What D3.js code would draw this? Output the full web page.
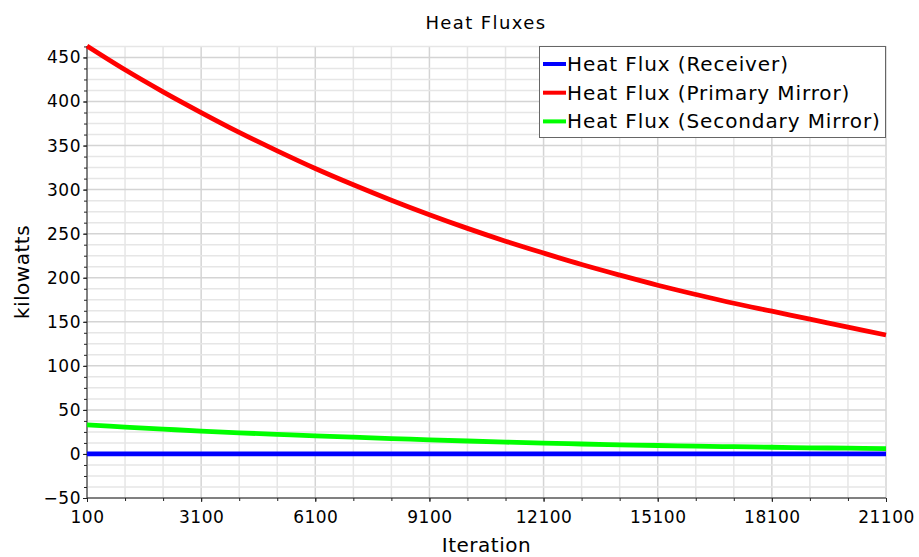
<!DOCTYPE html>
<html>
<head>
<meta charset="utf-8">
<script src="https://cdn.jsdelivr.net/npm/d3@7"></script>
<style>
  body { margin: 0; background: #fff; }
  svg text { font-family: "DejaVu Sans", sans-serif; fill: #000; }
</style>
</head>
<body>
<script>
// values
const iterations = [100, 1100, 2100, 3100, 4100, 5100, 6100, 7100, 8100, 9100, 10100,
    11100, 12100, 13100, 14100, 15100, 16100, 17100, 18100, 19100, 20100, 21100];
const receiver = [0, 0, 0, 0, 0, 0, 0, 0, 0, 0, 0,
    0, 0, 0, 0, 0, 0, 0, 0, 0, 0, 0];
const primaryMirror = [463, 436, 411, 387.5, 365, 344, 324, 305.5, 288, 271.5, 256,
    241.5, 228, 215, 203, 191.5, 181, 171, 162, 153, 144, 135];
const secondaryMirror = [33, 30.5, 28.2, 26, 24, 22.2, 20.5, 19, 17.5, 16, 14.7,
    13.4, 12.3, 11.3, 10.4, 9.6, 8.9, 8.2, 7.6, 7, 6.5, 6];
const seriesNames = ['Heat Flux (Receiver)', 'Heat Flux (Primary Mirror)', 'Heat Flux (Secondary Mirror)'];
const seriesColors = ['#0000ff', '#ff0000', '#00ff00'];
const xTicks = [100, 3100, 6100, 9100, 12100, 15100, 18100, 21100];
const yTicks = [-50, 0, 50, 100, 150, 200, 250, 300, 350, 400, 450];

const width = 919;
const height = 557;
const margin = {top: 46, right: 33, bottom: 59, left: 87};

const svg = d3.select('body').append('svg')
    .attr('width', width)
    .attr('height', height);

const x = d3.scaleLinear()
    .domain([100, 21100])
    .range([margin.left, width - margin.right]);

const y = d3.scaleLinear()
    .domain([-50, 463])
    .range([height - margin.bottom, margin.top]);

const g = svg.append('g');

// grid: minor every 1000 iterations / 12.5 kW
const xMinor = d3.range(100, 21101, 1000);
const yMinor = d3.range(-50, 463, 12.5);

g.selectAll('line.vgrid')
    .data(xMinor)
    .enter()
    .append('line')
    .attr('class', 'vgrid')
    .attr('x1', d => x(d)).attr('x2', d => x(d))
    .attr('y1', y(-50)).attr('y2', margin.top)
    .style('stroke', d => (d - 100) % 3000 === 0 ? '#d4d4d4' : '#e6e6e6')
    .style('stroke-width', 1.5);

g.selectAll('line.hgrid')
    .data(yMinor)
    .enter()
    .append('line')
    .attr('class', 'hgrid')
    .attr('x1', x(100)).attr('x2', x(21100))
    .attr('y1', d => y(d)).attr('y2', d => y(d))
    .style('stroke', d => d % 50 === 0 ? '#d4d4d4' : '#e6e6e6')
    .style('stroke-width', 1.5);

// axes
const xAxis = d3.axisBottom(x).tickValues(xTicks).tickSize(4).tickFormat(d3.format('d'));
const yAxis = d3.axisLeft(y).tickValues(yTicks).tickSize(4).tickFormat(d => d < 0 ? '\u2212' + Math.abs(d) : d);

const xMinorAxis = d3.axisBottom(x).tickValues(xMinor).tickSize(3).tickFormat('');
const yMinorAxis = d3.axisLeft(y).tickValues(yMinor).tickSize(3).tickFormat('');

svg.append('g')
    .attr('transform', `translate(0,${y(-50)})`)
    .call(xMinorAxis)
    .call(a => a.select('.domain').remove());

svg.append('g')
    .attr('transform', `translate(${x(100)},0)`)
    .call(yMinorAxis)
    .call(a => a.select('.domain').remove());

svg.append('g')
    .attr('transform', `translate(0,${y(-50)})`)
    .call(xAxis)
    .call(a => a.select('.domain').attr('d', `M${x(100)},0H${x(21100)}`))
    .selectAll('text')
    .attr('dy', '1.05em')
    .style('font-size', '17px')
    .style('letter-spacing', '0.5px');

svg.append('g')
    .attr('transform', `translate(${x(100)},0)`)
    .call(yAxis)
    .call(a => a.select('.domain').attr('d', `M0,${y(-50)}V${margin.top}`))
    .selectAll('text')
    .attr('x', -6)
    .style('font-size', '17px')
    .style('letter-spacing', '0.5px');

svg.selectAll('.domain, .tick line').style('stroke', '#222');

// lines
const series = [receiver, primaryMirror, secondaryMirror];

const line = d3.line()
    .x((d, i) => x(iterations[i]))
    .y(d => y(d))
    .curve(d3.curveCatmullRom);

svg.append('g')
    .selectAll('path')
    .data(series)
    .enter()
    .append('path')
    .attr('d', line)
    .style('fill', 'none')
    .style('stroke', (d, i) => seriesColors[i])
    .style('stroke-width', 4.8);

// title + axis labels
svg.append('text')
    .attr('x', 486)
    .attr('y', 29)
    .attr('text-anchor', 'middle')
    .style('font-size', '18px')
    .style('letter-spacing', '1.4px')
    .text('Heat Fluxes');

svg.append('text')
    .attr('x', (x(100) + x(21100)) / 2)
    .attr('y', 552)
    .attr('text-anchor', 'middle')
    .style('font-size', '20px')
    .style('letter-spacing', '0.5px')
    .text('Iteration');

svg.append('text')
    .attr('transform', `translate(29,${(y(-50) + margin.top) / 2}) rotate(-90)`)
    .attr('text-anchor', 'middle')
    .style('font-size', '20px')
    .style('letter-spacing', '0.5px')
    .text('kilowatts');

// legend
const legend = svg.append('g');

legend.append('rect')
    .attr('x', 539.5)
    .attr('y', 46.5)
    .attr('width', 346)
    .attr('height', 91)
    .style('fill', '#fff')
    .style('stroke', '#666')
    .style('stroke-width', 1);

const item = legend.selectAll('g.item')
    .data(seriesNames)
    .enter()
    .append('g')
    .attr('class', 'item')
    .attr('transform', (d, i) => `translate(543,${64 + i * 28.7})`);

item.append('line')
    .attr('x1', 0).attr('x2', 23)
    .style('stroke', (d, i) => seriesColors[i])
    .style('stroke-width', 4);

item.append('text')
    .attr('x', 24)
    .attr('y', 7)
    .style('font-size', '20px')
    .style('letter-spacing', '0.9px')
    .text(d => d);
</script>
</body>
</html>
